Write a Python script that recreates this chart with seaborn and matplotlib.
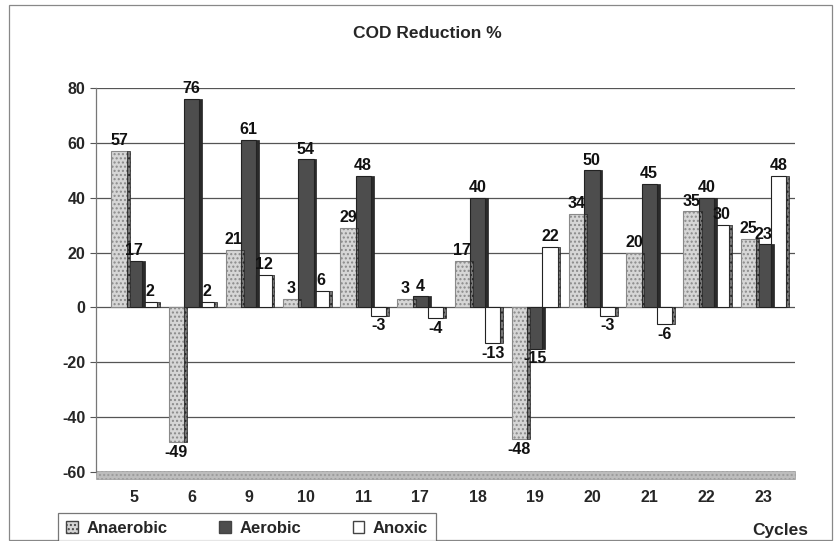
import numpy as np
import pandas as pd
import matplotlib
matplotlib.use("Agg")
import matplotlib.pyplot as plt
import seaborn as sns
from matplotlib.patches import Rectangle

cycles = ["5", "6", "9", "10", "11", "17", "18", "19", "20", "21", "22", "23"]
anaerobic = [57, -49, 21, 3, 29, 3, 17, -48, 34, 20, 35, 25]
aerobic = [17, 76, 61, 54, 48, 4, 40, -15, 50, 45, 40, 23]
anoxic = [2, 2, 12, 6, -3, -4, -13, 22, -3, -6, 30, 48]
series_names = ["Anaerobic", "Aerobic", "Anoxic"]
y_ticks = [-60, -40, -20, 0, 20, 40, 60, 80]

df = pd.DataFrame({
    "Cycle": cycles * 3,
    "Process": [series_names[0]] * len(cycles) + [series_names[1]] * len(cycles) + [series_names[2]] * len(cycles),
    "COD": anaerobic + aerobic + anoxic,
})

sns.set_theme(style="white")
plt.rcParams["font.family"] = ["Liberation Sans", "DejaVu Sans"]

W, H = 835, 541
fig = plt.figure(figsize=(W / 100, H / 100), dpi=100)
ax = fig.add_axes([96 / W, 1 - 472 / H, 699 / W, (472 - 88) / H])

colors = {"Anaerobic": "#d6d6d6", "Aerobic": "#4d4d4d", "Anoxic": "#ffffff"}
sns.barplot(data=df, x="Cycle", y="COD", hue="Process", order=cycles,
            hue_order=series_names, palette=colors, width=0.8,
            edgecolor="#222222", linewidth=0.8, ax=ax, legend=False,
            errorbar=None, saturation=1, zorder=3)

# dotted texture on the light bars, plus a thin shaded side face for depth
for container, name in zip(ax.containers, series_names):
    for bar in container:
        if name == "Anaerobic":
            bar.set_hatch("....")
            bar.set_edgecolor("#8a8a8a")
        x0, y0 = bar.get_x(), bar.get_y()
        w, h = bar.get_width(), bar.get_height()
        side = Rectangle((x0 + w, y0), 0.05, h, facecolor="#777777" if name != "Aerobic" else "#2a2a2a",
                         edgecolor="#222222", linewidth=0.5, hatch="...." if name != "Aerobic" else None,
                         zorder=3)
        ax.add_patch(side)
    ax.bar_label(container, fmt="%d", padding=2, fontsize=11.5, fontweight="bold",
                 color="#111111", zorder=5)

ax.set_ylim(-60, 80)
ax.set_xlim(-0.67, 11.55)
ax.set_yticks(y_ticks)
ax.set_yticklabels([str(v) for v in y_ticks], fontsize=11.5, fontweight="bold")
ax.tick_params(axis="x", labelsize=11.5, pad=13, length=0)
for lbl in ax.get_xticklabels():
    lbl.set_fontweight("bold")
ax.tick_params(axis="y", length=4, width=0.8, color="#555555", left=True)
ax.set_xlabel("")
ax.set_ylabel("")

for v in y_ticks[1:]:
    ax.axhline(v, color="#555555", linewidth=0.9, zorder=1)

# floor of the plot
ax.axhspan(-62.5, -59.5, facecolor="#bdbdbd", edgecolor="#9a9a9a", hatch="....",
           linewidth=0.5, zorder=2, clip_on=False)

for s in ["top", "right", "bottom"]:
    ax.spines[s].set_visible(False)
ax.spines["left"].set_color("#777777")
ax.spines["left"].set_linewidth(0.9)

fig.text(427 / W, 1 - 33 / H, "COD Reduction %", ha="center", va="center",
         fontsize=12.5, fontweight="bold")
fig.text(780 / W, 1 - 530 / H, "Cycles", ha="center", va="center",
         fontsize=12.5, fontweight="bold")

# outer chart frame
fig.add_artist(Rectangle((9 / W, 1 / H), 823 / W, 1 - 6 / H, transform=fig.transFigure,
                         fill=False, edgecolor="#888888", linewidth=0.9))

handles = [Rectangle((0, 0), 1, 1, facecolor=colors[n], edgecolor="#444444",
                     hatch="...." if n == "Anaerobic" else None) for n in series_names]
leg = fig.legend(handles, series_names, loc="lower left", bbox_to_anchor=(58 / W, -0.006),
                 ncol=3, frameon=True, fancybox=False, edgecolor="#555555",
                 prop={"weight": "bold", "size": 12}, handlelength=0.7, handleheight=0.7,
                 columnspacing=3.1, handletextpad=0.5, borderpad=0.5, borderaxespad=0)
leg.get_frame().set_linewidth(0.9)

fig.savefig("out.png", dpi=100)
